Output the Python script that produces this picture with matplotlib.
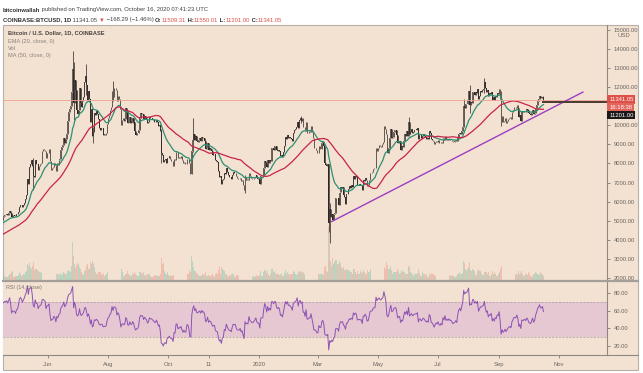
import matplotlib
matplotlib.use('Agg')
import matplotlib.pyplot as plt
import matplotlib.dates as mdates
import numpy as np
import pandas as pd
from matplotlib.lines import Line2D
from matplotlib.patches import Rectangle

plt.rcParams['font.family'] = ['Liberation Sans', 'DejaVu Sans']

# daily closes before the visible window (only feed the averages), 2019-02-26 .. 2019-04-16
pre_closes = [3820, 3820, 3810,
              3820, 3820, 3790, 3700, 3860, 3870, 3880, 3860, 3940, 3920, 3870, 3880, 3870, 3870, 3910, 4000,
              3980, 3990, 4020, 4050, 3980, 3990, 4000, 3990, 3920, 3940, 4080, 4040, 4100, 4110, 4110,
              4140, 4890, 4970, 4910, 5040, 5060, 5200, 5290, 5200, 5320, 5050, 5080, 5080, 5160, 5040, 5220]

# visible closes, 2019-04-17 .. 2019-12-31
closes_2019 = [5240, 5290, 5280, 5330, 5290, 5380, 5520, 5420, 5210, 5280, 5275, 5270, 5230, 5330,
               5360, 5480, 5740, 5830, 5800, 5740, 5850, 5950, 6150, 6330, 7190, 6930, 7800, 7990, 8190, 7880,
               7360, 7270, 8170, 7960, 7960, 7640, 7880, 7990, 8050, 8680, 8750, 8690, 8660, 8270, 8550,
               8560, 8740, 8120, 7680, 7780, 7800, 8000, 7930, 7630, 8010, 7920, 8170, 8230, 8690, 8850,
               8980, 9330, 9080, 9280, 9530, 10210, 10700, 10860, 11010, 11750, 12930, 11160, 12370, 11870, 10820,
               10580, 10800, 11970, 11150, 10970, 11250, 11470, 12290, 12570, 12100, 11340, 11790, 11370, 10190,
               10860, 9420, 9670, 10640, 10530, 10760, 10590, 10330, 9880, 9770, 9880, 9850, 9480, 9530, 9500,
               9590, 10090,
               10400, 10530, 10820, 10970, 11800, 11470, 11980, 11980, 11860, 11290, 11560, 11390, 10870, 10030,
               10300, 10360, 10220, 10320, 10920, 10760, 10130, 10110, 10410, 10140, 10140, 10370, 10190, 9710,
               9490, 9590, 9600,
               9770, 10390, 10620, 10580, 10580, 10320, 10490, 10400, 10320, 10100, 10160, 10420, 10360, 10360,
               10310, 10260, 10190, 10160, 10270, 10180, 9990, 10030, 9690, 8530, 8430, 8060, 8190, 8210, 8050, 8300,
               8300, 8370, 8230, 8150, 8140, 7870, 8210, 8180, 8590, 8590, 8270, 8330, 8300, 8370, 8160, 8000,
               8080, 7960, 7950, 8230, 8220, 8030, 7470, 7430, 8660, 9250, 9550, 9220, 9430, 9170, 9150,
               9250, 9310, 9190, 9410, 9310, 9350, 9200, 8770, 8810, 9050, 8720, 8810, 8760, 8640, 8470, 8500,
               8510, 8170, 8120, 8080, 7620, 7280, 7330, 6910, 7130, 7170, 7510, 7430, 7750, 7560,
               7410, 7300, 7300, 7200, 7390, 7530, 7500, 7520, 7340, 7220, 7200, 7190, 7250, 7070, 7110, 6880,
               6610, 7280, 7150, 7190, 7140, 7510, 7320, 7250, 7200, 7190, 7250, 7300, 7390, 7220, 7170]

# visible closes, 2020-01-01 .. 2020-10-16
closes_2020 = [7180, 6950, 7340, 7350, 7350, 7760, 8150, 8050, 7820, 8200, 8020, 8180, 8110, 8810, 8810, 8720,
               8910, 8920, 8700, 8630, 8730, 8660, 8390, 8430, 8330, 8600, 8900, 9390, 9290, 9510, 9350,
               9380, 9330, 9290, 9180, 9620, 9760, 9810, 9900, 10160, 9850, 10270, 10360, 10240, 10370, 9900,
               9920, 9700, 10180, 9600, 9610, 9690, 9670, 9960, 9660, 9310, 8790, 8810, 8710, 8530,
               8540, 8910, 8760, 8760, 9070, 9150, 8900, 8040, 7940, 7890, 7950, 4860, 5630, 5170, 5360, 5030,
               5330, 5420, 6190, 6210, 6190, 5830, 6480, 6770, 6700, 6760, 6370, 6260, 5880, 6400, 6420,
               6650, 6810, 6740, 6870, 6780, 7340, 7200, 7370, 7300, 6860, 6890, 6910, 6860, 6880, 6630, 7120,
               7100, 7260, 7140, 6840, 6860, 7130, 7490, 7510, 7540, 7700, 7770, 7770, 8790, 8630,
               8830, 8970, 8900, 8880, 9030, 9150, 9990, 9810, 9540, 8720, 8570, 8820, 9310, 9790, 9320, 9380,
               9670, 9730, 9780, 9510, 9060, 9170, 9180, 8720, 8900, 8840, 9200, 9570, 9430, 9700, 9450,
               10200, 9520, 9660, 9790, 9620, 9670, 9750, 9780, 9770, 9880, 9270, 9470, 9480, 9340, 9430, 9520,
               9460, 9380, 9300, 9350, 9290, 9680, 9620, 9290, 9250, 9160, 9010, 9120, 9190, 9140,
               9230, 9090, 9060, 9130, 9070, 9340, 9250, 9430, 9240, 9290, 9240, 9300, 9240, 9250, 9190, 9130,
               9150, 9170, 9210, 9160, 9390, 9540, 9610, 9550, 9710, 9930, 11030, 10910, 11100, 11110, 11350,
               11800, 11070, 11230, 11190, 11740, 11770, 11600, 11760, 11680, 11890, 11390, 11560, 11780, 11770,
               11860, 11910, 12290, 11960, 11750, 11860, 11520, 11670, 11650, 11760, 11330, 11470, 11320, 11530,
               11470, 11700, 11660,
               11920, 11400, 10170, 10470, 10170, 10250, 10370, 10120, 10230, 10340, 10390, 10440, 10330, 10680,
               10790, 10950, 10940, 10930, 11090, 10920, 10420, 10540, 10240, 10740, 10690, 10730, 10770, 10700,
               10840, 10780,
               10620, 10570, 10550, 10670, 10790, 10600, 10670, 10920, 11060, 11300, 11380, 11540, 11430, 11430,
               11509.31, 11341.05]

# daily volume, thousand BTC, 2019-04-17 .. 2019-12-31 and 2020-01-01 .. 2020-10-16
vol_2019 = [6, 6, 5, 5, 4, 7, 10, 9, 14, 12, 5, 4, 6, 6,
            7, 8, 12, 10, 7, 8, 9, 10, 12, 14, 25, 22, 26, 20, 18, 22, 28, 15, 18, 17, 15, 14, 12, 13, 11, 14,
            12, 10, 11, 14, 12,
            10, 9, 14, 15, 11, 9, 8, 6, 8, 10, 9, 10, 8, 11, 8, 10, 12, 11, 9, 10, 14, 16, 14, 13, 22, 60, 38,
            25, 19, 24,
            26, 25, 20, 17, 12, 9, 8, 14, 15, 22, 25, 17, 18, 28, 25, 30, 26, 20, 13, 10, 10, 12, 12, 13, 9,
            8, 11, 7, 8, 9, 12,
            12, 10, 10, 8, 18, 16, 15, 12, 11, 11, 7, 8, 12, 15, 18, 13, 7, 6, 10, 9, 14, 10, 8, 6, 6, 11, 9,
            13, 10, 8, 6,
            7, 12, 13, 11, 9, 12, 8, 7, 8, 10, 9, 9, 7, 5, 5, 7, 8, 7, 8, 7, 6, 7, 10, 35, 25, 26, 14, 10, 9, 12,
            8, 7, 7, 8, 6, 8, 11, 9, 13, 10, 9, 5, 5, 7, 8, 9, 7, 8, 5, 6, 9, 9, 15, 12, 38, 30, 20, 14, 14, 11, 10,
            8, 6, 6, 8, 9, 8, 9, 12, 7, 7, 8, 7, 7, 8, 9, 6, 5, 9, 11, 10, 15, 20, 10, 21, 18, 15, 14, 10, 10, 7,
            7, 8, 7, 9, 9, 9, 5, 5, 8, 8, 7, 7, 7, 5, 5, 10, 14, 20, 12, 9, 5, 6, 12, 7, 6, 5, 6, 5, 6, 8, 7]
vol_2020 = [6, 8, 14, 7, 7, 12, 15, 16, 11, 14, 8, 7, 9, 18, 17, 13, 14, 11, 10, 9, 9, 8, 10, 9, 6, 7, 11, 15,
            10, 12, 10,
            8, 9, 9, 10, 14, 12, 9, 8, 10, 12, 14, 13, 14, 11, 12, 10, 15, 14, 17, 12, 8, 6, 8, 10, 13, 18, 15,
            11, 9,
            8, 10, 9, 9, 10, 9, 8, 20, 22, 14, 13, 85, 95, 30, 22, 34, 25, 28, 32, 31, 25, 25, 30, 27, 20, 18,
            20, 15, 16, 17, 16,
            16, 14, 12, 13, 10, 18, 17, 13, 10, 14, 10, 10, 14, 12, 11, 16, 13, 9, 9, 15, 12, 12, 18, 13, 9, 10,
            11, 13, 30, 25,
            18, 14, 12, 14, 15, 14, 23, 20, 17, 28, 24, 17, 18, 22, 16, 10, 12, 12, 13, 12, 18, 14, 10, 11, 15,
            12, 14, 12, 10, 10, 10,
            22, 20, 13, 11, 10, 6, 9, 9, 9, 11, 18, 11, 7, 7, 12, 9, 9, 8, 9, 5, 5, 9, 8, 11, 10, 10, 8, 6, 8, 7,
            7, 7, 6, 5, 5, 10, 7, 9, 8, 8, 4, 4, 8, 7, 7, 8, 6, 4, 4, 7, 10, 10, 12, 9, 10, 11, 30, 26, 18, 14, 17,
            20, 28, 16, 14, 17, 15, 14, 8, 8, 14, 18, 14, 14, 11, 8, 8, 13, 13, 13, 10, 13, 7, 6, 10, 14, 10, 13,
            9, 6, 6, 9,
            12, 17, 22, 18, 14, 7, 10, 11, 10, 9, 8, 7, 7, 10, 10, 11, 10, 9, 9, 8, 14, 10, 11, 14, 10, 6, 6, 9, 10, 8,
            12, 10, 7, 5, 7, 9, 9, 12, 11, 10, 8, 10, 12, 9, 10, 6]

# notable wicks (high, low) beyond the candle bodies
wick_days = ['2019-05-17', '2019-06-26', '2019-06-27', '2019-07-10', '2019-07-17', '2019-08-06',
             '2019-09-24', '2019-10-26', '2019-12-18', '2020-02-13', '2020-03-12', '2020-03-13',
             '2020-06-01', '2020-07-27', '2020-08-02', '2020-08-17', '2020-09-03', '2020-10-16']
wick_highs = [8280, 13880, 13300, 13200, 9900, 12320, 9800, 10370, 7420, 10500, 7970, 5950,
              10430, 11400, 12100, 12480, 11800, 11550.01]
wick_lows = [6600, 11650, 10300, 11600, 9070, 11300, 8000, 8600, 6430, 10100, 4400, 3850,
             9420, 9900, 10650, 11700, 9950, 11201.00]

trend_dates = ['2020-03-15', '2020-11-25']
trend_prices = [4960, 11740]
level_price = 11201.00
last_price = 11341.05

price_ticks = [2000, 3000, 4000, 5000, 6000, 7000, 8000, 9000, 10000, 11000, 12000, 13000, 14000, 15000]
rsi_ticks = [20, 40, 60, 80]
month_dates = ['2019-06-01', '2019-08-01', '2019-10-01', '2019-11-11', '2020-01-01', '2020-03-01',
               '2020-05-01', '2020-07-01', '2020-09-01', '2020-11-01']
month_labels = ['Jun', 'Aug', 'Oct', '11', '2020', 'Mar', 'May', 'Jul', 'Sep', 'Nov']

# ---- derived series
all_closes = pre_closes + closes_2019 + closes_2020
dates = pd.date_range('2019-02-26', periods=len(all_closes), freq='D')
close = pd.Series(all_closes, index=dates, dtype=float)
opn = close.shift(1).fillna(close.iloc[0])
high = np.maximum(opn, close)
low = np.minimum(opn, close)
for d, h, l in zip(wick_days, wick_highs, wick_lows):
    d = pd.Timestamp(d)
    high[d] = max(high[d], h)
    low[d] = min(low[d], l)

ema20 = close.ewm(span=20, adjust=False).mean()
ma50 = close.rolling(50, min_periods=1).mean()
delta = close.diff().fillna(0)
gain = delta.clip(lower=0).ewm(alpha=1 / 14, adjust=False).mean()
loss = (-delta.clip(upper=0)).ewm(alpha=1 / 14, adjust=False).mean()
rsi = 100 - 100 / (1 + gain / loss)

vis = dates >= pd.Timestamp('2019-04-17')
vdates = dates[vis]
volume = np.array(vol_2019 + vol_2020, dtype=float)
xv = mdates.date2num(vdates)
up = (close[vis] >= opn[vis]).values

# ---- layout helpers (pixel -> figure fraction)
W, H = 643, 373
def fx(px):
    return px / W
def fy(py):
    return 1 - py / H

BG = '#f3e2d2'
TXT = '#6c6560'
DARK = '#333030'
RED = '#df5048'

fig = plt.figure(figsize=(6.43, 3.73), dpi=100, facecolor='white')
fig.patches.append(Rectangle((fx(3), fy(370)), fx(638) - fx(3), fy(25) - fy(370), transform=fig.transFigure,
                             facecolor=BG, edgecolor='#b9aea6', lw=0.8, zorder=-10))

day0 = mdates.date2num(pd.Timestamp('2019-06-01'))
xlim = (day0 - 45.7, day0 + 567.5)

rect_p = [fx(3), fy(280), fx(607) - fx(3), fy(25) - fy(280)]
ax_v = fig.add_axes(rect_p)
ax = fig.add_axes(rect_p, sharex=ax_v)
ax_r = fig.add_axes([fx(3), fy(355), fx(607) - fx(3), fy(281) - fy(355)], sharex=ax_v)

# volume
ax_v.bar(xv, volume, width=0.8, color=np.where(up, '#8ec9b0', '#eda293'), alpha=0.55, lw=0)
ax_v.set_ylim(0, 400)
ax_v.set_xlim(*xlim)
ax_v.patch.set_alpha(0)
ax_v.set_yticks([])
ax_v.tick_params(bottom=False, labelbottom=False)
for s in ax_v.spines.values():
    s.set_visible(False)

# price
ax.patch.set_alpha(0)
x = mdates.date2num(dates)
ax.vlines(x, low.values, high.values, color='#3a3230', lw=0.55)
body_lo = np.minimum(opn.values, close.values)
body_h = np.maximum(np.abs(close.values - opn.values), 12)
cup = close.values >= opn.values
ax.bar(x, body_h, bottom=body_lo, width=0.7, color=np.where(cup, '#6f655f', '#2b2523'), lw=0)
ax.plot(x, ema20.values, color='#2e8f73', lw=0.9)
ax.plot(x, ma50.values, color='#c9234b', lw=0.9)
ax.axhline(last_price, color='#eca58e', lw=0.6)
ax.plot(mdates.date2num(pd.to_datetime(trend_dates)), trend_prices, color='#9b3ec2', lw=1.0)
ax.plot([mdates.date2num(dates[-1]), xlim[1]], [level_price, level_price], color='#4a3a32', lw=1.4)
ax.set_ylim(1895, 15257)
ax.set_xlim(*xlim)
ax.yaxis.tick_right()
ax.set_yticks(price_ticks)
ax.set_yticklabels(['%.2f' % t for t in price_ticks])
ax.tick_params(axis='y', labelsize=4.2, colors=TXT, length=2, width=0.5, pad=3)
ax.tick_params(axis='x', bottom=False, labelbottom=False)
for k, s in ax.spines.items():
    s.set_visible(k == 'right')
ax.spines['right'].set_color('#8f8780')
ax.spines['right'].set_linewidth(0.8)
# the 11000 label sits under the price flags
for t in ax.get_yticklabels():
    if t.get_text() == '11000.00':
        t.set_visible(False)

# price-axis flags
flag = dict(xy=(1, last_price), xycoords=('axes fraction', 'data'), textcoords='offset points',
            ha='left', va='center', fontsize=4.2, color='white', annotation_clip=False)
ax.annotate('%.2f' % last_price, xytext=(1.6, 0), bbox=dict(boxstyle='square,pad=0.3', fc=RED, ec='none'), **flag)
ax.annotate('16:18:38', xytext=(1.6, -5.6), bbox=dict(boxstyle='square,pad=0.3', fc='#e2655c', ec='none'), **flag)
ax.annotate('%.2f' % level_price, xytext=(1.6, -11.0), bbox=dict(boxstyle='square,pad=0.3', fc='#1c1818', ec='none'), **flag)
fig.text(fx(624), fy(35.5), 'USD', fontsize=4.2, color=TXT, ha='center', va='center')

# RSI
ax_r.set_facecolor(BG)
ax_r.axhspan(30, 70, color='#e6c8d3', lw=0)
ax_r.axhline(70, color='#a99aa0', lw=0.5, ls=(0, (3, 2)))
ax_r.axhline(30, color='#a99aa0', lw=0.5, ls=(0, (3, 2)))
ax_r.plot(x, rsi.values, color='#8d52b3', lw=0.7)
ax_r.set_ylim(9.8, 93.6)
ax_r.set_xlim(*xlim)
ax_r.yaxis.tick_right()
ax_r.set_yticks(rsi_ticks)
ax_r.set_yticklabels(['%.2f' % t for t in rsi_ticks])
ax_r.set_xticks(mdates.date2num(pd.to_datetime(month_dates)))
ax_r.set_xticklabels(month_labels)
ax_r.tick_params(labelsize=4.2, colors=TXT, length=2, width=0.5, pad=3)
for k, s in ax_r.spines.items():
    s.set_visible(k in ('right', 'bottom'))
    s.set_color('#8f8780')
    s.set_linewidth(0.8)

# pane divider and bottom rule
fig.add_artist(Line2D([fx(3), fx(638)], [fy(280.5), fy(280.5)], color='#a69e98', lw=1.6))
fig.add_artist(Line2D([fx(607), fx(638)], [fy(355), fy(355)], color='#8f8780', lw=0.8))

# legend texts
fig.text(fx(8), fy(33), 'Bitcoin / U.S. Dollar, 1D, COINBASE', fontsize=4.1, fontweight='bold', color='#4a4340', va='center')
for i, s in enumerate(['EMA (20, close, 0)', 'Vol', 'MA (50, close, 0)']):
    fig.text(fx(8), fy(41 + 7 * i), s, fontsize=4.1, color='#8a817b', va='center')
fig.text(fx(6), fy(288), 'RSI (14, close)', fontsize=3.9, color='#7e7570', va='center')

# header, written as runs of differently styled text
fig.canvas.draw()
renderer = fig.canvas.get_renderer()
def runs(x0, y0, parts):
    xp = x0
    for s, color, weight in parts:
        t = fig.text(fx(xp), fy(y0), s, fontsize=4.2, color=color, fontweight=weight, va='center')
        xp += t.get_window_extent(renderer).width * W / fig.bbox.width

runs(3, 10, [('bitcoinwallah', DARK, 'bold'),
             (' published on TradingView.com, October 16, 2020 07:41:23 UTC', '#444040', 'normal')])
runs(3, 20, [('COINBASE:BTCUSD, 1D', DARK, 'bold'), (' 11341.05 ', '#444040', 'normal'),
             ('\u25bc', RED, 'normal'), (' \u2212168.29 (\u22121.46%) ', '#444040', 'normal'),
             ('O:', DARK, 'bold'), ('11509.31', RED, 'normal'), (' H:', DARK, 'bold'),
             ('11550.01', RED, 'normal'), (' L:', DARK, 'bold'), ('11201.00', RED, 'normal'),
             (' C:', DARK, 'bold'), ('11341.05', RED, 'normal')])

fig.savefig('out.png', dpi=100, facecolor='white')
